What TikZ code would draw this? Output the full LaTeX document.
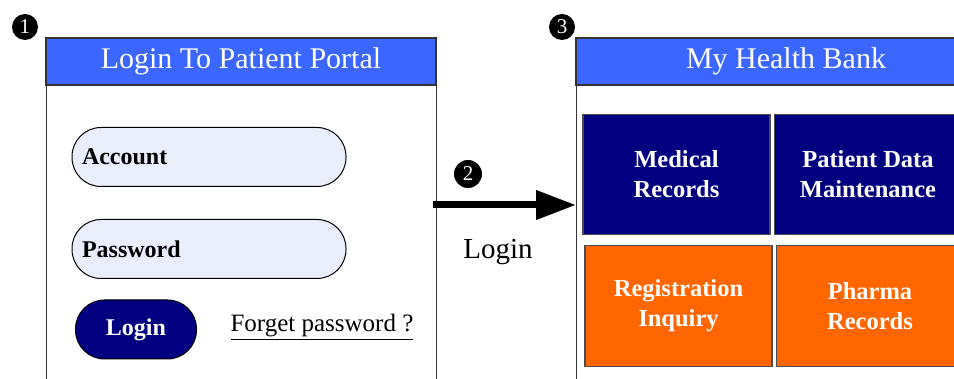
\documentclass[tikz,border=0pt]{standalone}
\usepackage{fontspec}
\setmainfont{Liberation Serif}
\usetikzlibrary{arrows.meta}
\definecolor{hdrblue}{HTML}{3B66FF}
\definecolor{navy}{HTML}{000080}
\definecolor{orng}{HTML}{FF6600}
\definecolor{pillfill}{HTML}{EAEEFB}
\tikzset{
  panel/.style={draw=black!80, line width=1.2pt, fill=white, anchor=north west, inner sep=0pt},
  header/.style={draw=black!80, line width=1.2pt, fill=hdrblue, text=white, inner sep=0pt,
    font=\fontsize{30}{30}\selectfont},
  pill/.style={draw=black, line width=1pt, fill=pillfill, rounded corners=29pt, minimum width=274pt,
    minimum height=59pt, inner xsep=10pt, text width=254pt, align=left,
    font=\bfseries\fontsize{24}{24}\selectfont},
  btn/.style={draw=black, line width=1pt, fill=navy, text=white, rounded corners=29pt,
    minimum width=121pt, minimum height=59pt, font=\bfseries\fontsize{24}{24}\selectfont},
  tile/.style={draw=black!70, line width=1.2pt, text=white, minimum width=187pt, minimum height=120pt,
    align=center, font=\bfseries\fontsize{24.5}{30}\selectfont, inner sep=0pt},
  numdot/.style={circle, fill=black, text=white, minimum size=26pt, inner sep=0pt,
    font=\fontsize{21}{21}\selectfont},
}
\begin{document}
\begin{tikzpicture}[x=1pt,y=-1pt]
\useasboundingbox (0,0) rectangle (954,379);
\clip (0,0) rectangle (954,379);
% left panel
\node[panel, minimum width=390pt, minimum height=400pt] (lpanel) at (46,38) {};
\node[header, minimum width=390pt, minimum height=47pt] (lhead) at (241,61.5) {Login To Patient Portal};
\node[numdot] (n1) at (25,27) {1};
\node[pill] (acc) at (209,157) {Account};
\node[pill] (pwd) at (209,249) {Password};
\node[btn] (lbtn) at (136,329.5) {Login};
\node[font=\fontsize{25}{25}\selectfont, inner sep=0pt] (forget) at (322,327) {\underline{Forget password ?}};
% right panel
\node[panel, minimum width=420pt, minimum height=400pt] (rpanel) at (576,38) {};
\node[header, minimum width=420pt, minimum height=47pt] (rhead) at (786,61.5) {My Health Bank};
\node[numdot] (n3) at (562,27) {3};
\node[tile, fill=navy] (med) at (676.5,174.5) {Medical\\Records};
\node[tile, fill=navy] (pdm) at (868,174.5) {Patient Data\\Maintenance};
\node[tile, fill=orng, minimum height=121pt] (reg) at (678.5,306) {Registration\\Inquiry};
\node[tile, fill=orng, minimum height=121pt] (pha) at (870,306) {Pharma\\Records};
% arrow
\coordinate (astart) at (433,205);
\coordinate (aend) at (576,205);
\draw[line width=7pt, -{Triangle[length=40pt,width=28pt]}] (astart) -- (aend);
\node[numdot, minimum size=28pt] (n2) at (468,174) {2};
\node[font=\fontsize{29}{29}\selectfont, inner sep=0pt] (lgn) at (498,252) {Login};
\end{tikzpicture}
\end{document}
